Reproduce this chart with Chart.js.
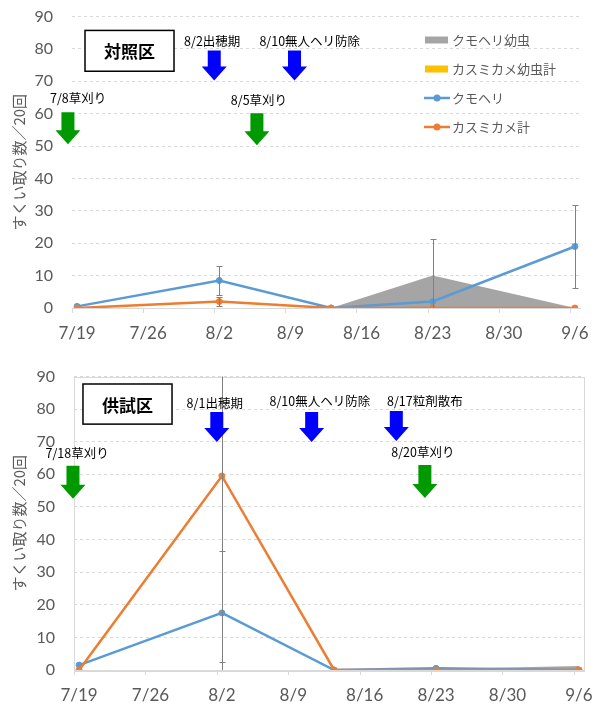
<!DOCTYPE html>
<html>
<head>
<meta charset="utf-8">
<script src="https://cdn.jsdelivr.net/npm/chart.js@4/dist/chart.umd.min.js"></script>
<style>
    html, body { margin: 0; padding: 0; background: #fff; }
    #wrap { position: relative; width: 597px; height: 707px; }
    .pane { position: absolute; left: 0; width: 597px; }
    #topPane { top: 0; height: 348px; }
    #bottomPane { top: 360px; height: 347px; }
</style>
</head>
<body>
<div id="wrap">
    <div class="pane" id="topPane"><canvas id="ctrlChart"></canvas></div>
    <div class="pane" id="bottomPane"><canvas id="testChart"></canvas></div>
</div>
<script>
const tickDates = ["7/19", "7/26", "8/2", "8/9", "8/16", "8/23", "8/30", "9/6"];
const surveyDates = ["7/19", "8/2", "8/13", "8/23", "9/6"];
const seriesNames = ["クモヘリ幼虫", "カスミカメ幼虫計", "クモヘリ", "カスミカメ計"];
const yTitle = "すくい取り数／20回";

// 対照区
const ctrlKumoheriLarva = [0, 0, 0, 10, 0];
const ctrlKasumiLarva = [0, 0, 0, 0, 0];
const ctrlKumoheri = [0.5, 8.5, 0, 2, 19];
const ctrlKasumi = [0, 2, 0, 0, 0];
const ctrlKumoheriErr = [0, 4.4, 0, 19.2, 12.9];
const ctrlKasumiErr = [0, 1.5, 0, 0, 0];

// 供試区
const testKumoheriLarva = [0, 0, 0, 0.3, 1.2];
const testKasumiLarva = [0, 0, 0, 0, 0];
const testKumoheri = [1.5, 17.5, 0, 0.5, 0];
const testKasumi = [0, 59.5, 0, 0, 0];
const testKumoheriErr = [0, 19.1, 0, 0, 0];
const testKasumiErr = [0, 57, 0, 0, 0];

// notes drawn on the charts: day = days after 7/19, value = y-axis value
const BLUE = "#0000ff";
const GREEN = "#009a00";
const ctrlNotes = {
    box: { text: "対照区", day0: 0.78, day1: 9.54, value0: 85.7, value1: 73.1 },
    texts: [
        { text: "8/2出穂期", day: 13.3, value: 82.3 },
        { text: "8/10無人ヘリ防除", day: 22.9, value: 82.3 },
        { text: "7/8草刈り", day: 0.1, value: 64.7 },
        { text: "8/5草刈り", day: 17.9, value: 64.1 }
    ],
    arrows: [
        { day: 13.5, value: 79.5, color: BLUE, h: 30 },
        { day: 21.4, value: 79.5, color: BLUE, h: 30 },
        { day: -0.9, value: 60.4, color: GREEN, h: 32 },
        { day: 17.7, value: 60.1, color: GREEN, h: 32 }
    ]
};
const testNotes = {
    box: { text: "供試区", day0: 0.38, day1: 9.11, value0: 87.7, value1: 75.4 },
    texts: [
        { text: "8/1出穂期", day: 13.3, value: 81.9 },
        { text: "8/10無人ヘリ防除", day: 23.6, value: 82.5 },
        { text: "8/17粒剤散布", day: 33.9, value: 82.5 },
        { text: "7/18草刈り", day: -0.2, value: 66.5 },
        { text: "8/20草刈り", day: 33.7, value: 66.8 }
    ],
    arrows: [
        { day: 13.5, value: 79.1, color: BLUE, h: 30 },
        { day: 22.8, value: 79.1, color: BLUE, h: 30 },
        { day: 31.1, value: 79.4, color: BLUE, h: 30 },
        { day: -0.6, value: 62.6, color: GREEN, h: 33 },
        { day: 33.9, value: 62.9, color: GREEN, h: 33 }
    ]
};

const TEXT_GRAY = "#595959";
const LINE_GRAY = "#d9d9d9";
const JP = "\"Noto Sans CJK JP\", sans-serif";

const dayOf = (md) => {
    const [m, d] = md.split("/").map(Number);
    return Math.round((Date.UTC(2020, m - 1, d) - Date.UTC(2020, 6, 19)) / 86400000);
};
const tickLabels = {};
tickDates.forEach(t => { tickLabels[dayOf(t)] = t; });
const points = (values) => values.map((v, i) => ({ x: dayOf(surveyDates[i]), y: v }));

const buildDatasets = (larva, kasumiLarva, kumo, kasumi, kumoErr, kasumiErr) => [
    { label: seriesNames[0], data: points(larva), fill: "origin", backgroundColor: "#a5a5a5", borderWidth: 0, pointRadius: 0, order: 4, area: true },
    { label: seriesNames[1], data: points(kasumiLarva), fill: "origin", backgroundColor: "#ffc000", borderWidth: 0, pointRadius: 0, order: 3, area: true },
    { label: seriesNames[2], data: points(kumo), borderColor: "#5b9bd5", backgroundColor: "#5b9bd5", borderWidth: 2.5, pointRadius: 3, pointBorderWidth: 1, order: 2, errors: kumoErr },
    { label: seriesNames[3], data: points(kasumi), borderColor: "#ed7d31", backgroundColor: "#ed7d31", borderWidth: 2.5, pointRadius: 3, pointBorderWidth: 1, order: 1, errors: kasumiErr }
];

const errorBars = {
    id: "errorBars",
    afterDatasetsDraw(chart) {
        const { ctx, chartArea: a, scales: { x, y } } = chart;
        ctx.save();
        ctx.beginPath();
        ctx.rect(a.left, a.top, a.right - a.left, a.bottom - a.top);
        ctx.clip();
        ctx.strokeStyle = "#808080";
        ctx.lineWidth = 1;
        chart.data.datasets.forEach(ds => {
            if (!ds.errors) {
                return;
            }
            ds.data.forEach((p, i) => {
                const e = ds.errors[i];
                if (!e) {
                    return;
                }
                const px = Math.round(x.getPixelForValue(p.x)) + 0.5;
                const hi = Math.round(y.getPixelForValue(p.y + e)) + 0.5;
                const lo = Math.round(y.getPixelForValue(p.y - e)) + 0.5;
                ctx.beginPath();
                ctx.moveTo(px, hi);
                ctx.lineTo(px, lo);
                ctx.moveTo(px - 3, hi);
                ctx.lineTo(px + 3, hi);
                ctx.moveTo(px - 3, lo);
                ctx.lineTo(px + 3, lo);
                ctx.stroke();
            });
        });
        ctx.restore();
    }
};

// Excel-style tick marks between day categories
const tickMarks = {
    id: "tickMarks",
    afterDraw(chart) {
        const { ctx, chartArea: a, scales: { x } } = chart;
        ctx.save();
        ctx.strokeStyle = LINE_GRAY;
        ctx.lineWidth = 1;
        x.ticks.forEach(t => {
            const px = Math.round(x.getPixelForValue(t.value - 0.5)) + 0.5;
            ctx.beginPath();
            ctx.moveTo(px, a.bottom);
            ctx.lineTo(px, a.bottom + 5);
            ctx.stroke();
        });
        ctx.restore();
    }
};

const frame = {
    id: "frame",
    beforeDatasetsDraw(chart) {
        const { ctx, chartArea: a } = chart;
        ctx.save();
        ctx.strokeStyle = LINE_GRAY;
        ctx.lineWidth = 1;
        ctx.strokeRect(Math.round(a.left) + 0.5, Math.round(a.top) + 0.5, Math.round(a.right - a.left), Math.round(a.bottom - a.top));
        ctx.restore();
    }
};

const drawArrow = (ctx, cx, top, color, h) => {
    const sw = 13, hw = 25, hh = 14;
    ctx.beginPath();
    ctx.moveTo(cx - sw / 2, top);
    ctx.lineTo(cx + sw / 2, top);
    ctx.lineTo(cx + sw / 2, top + h - hh);
    ctx.lineTo(cx + hw / 2, top + h - hh);
    ctx.lineTo(cx, top + h);
    ctx.lineTo(cx - hw / 2, top + h - hh);
    ctx.lineTo(cx - sw / 2, top + h - hh);
    ctx.closePath();
    ctx.fillStyle = color;
    ctx.fill();
};

const makeNotes = (notes) => ({
    id: "notes",
    afterDraw(chart) {
        const { ctx, scales: { x, y } } = chart;
        ctx.save();
        const b = notes.box;
        const bx0 = x.getPixelForValue(b.day0), bx1 = x.getPixelForValue(b.day1);
        const by0 = y.getPixelForValue(b.value0), by1 = y.getPixelForValue(b.value1);
        ctx.fillStyle = "#fff";
        ctx.fillRect(bx0, by0, bx1 - bx0, by1 - by0);
        ctx.strokeStyle = "#000";
        ctx.lineWidth = 1.5;
        ctx.strokeRect(bx0, by0, bx1 - bx0, by1 - by0);
        ctx.fillStyle = "#000";
        ctx.font = "bold 17px " + JP;
        ctx.textAlign = "center";
        ctx.textBaseline = "middle";
        ctx.fillText(b.text, (bx0 + bx1) / 2, (by0 + by1) / 2 + 1);

        notes.arrows.forEach(a => drawArrow(ctx, x.getPixelForValue(a.day), y.getPixelForValue(a.value), a.color, a.h));

        ctx.font = "12.5px " + JP;
        ctx.fillStyle = "#000";
        notes.texts.forEach(t => ctx.fillText(t.text, x.getPixelForValue(t.day), y.getPixelForValue(t.value)));
        ctx.restore();
    }
});

const legendBox = {
    id: "legendBox",
    afterDraw(chart) {
        const { ctx } = chart;
        ctx.save();
        ctx.font = "13px " + JP;
        ctx.textBaseline = "middle";
        ctx.textAlign = "left";
        chart.data.datasets.forEach((ds, i) => {
            const cy = 40 + i * 29;
            if (ds.area) {
                ctx.fillStyle = ds.backgroundColor;
                ctx.fillRect(425, cy - 3.5, 23, 7);
            } else {
                ctx.strokeStyle = ds.borderColor;
                ctx.lineWidth = 2.5;
                ctx.beginPath();
                ctx.moveTo(424, cy);
                ctx.lineTo(450, cy);
                ctx.stroke();
                ctx.fillStyle = ds.backgroundColor;
                ctx.beginPath();
                ctx.arc(437, cy, 3.5, 0, Math.PI * 2);
                ctx.fill();
            }
            ctx.fillStyle = TEXT_GRAY;
            ctx.fillText(ds.label, 452, cy);
        });
        ctx.restore();
    }
};

const buildOptions = (yWidth, xHeight, padRight) => ({
    responsive: true,
    maintainAspectRatio: false,
    animation: false,
    layout: { autoPadding: false, padding: { top: 16.5, right: padRight, left: 0, bottom: 0 } },
    plugins: { legend: { display: false }, tooltip: { enabled: false } },
    scales: {
        x: {
            type: "linear",
            min: -0.5,
            max: 49.5,
            afterBuildTicks: (scale) => {
                scale.ticks = tickDates.map(t => ({ value: dayOf(t) }));
            },
            afterFit: (scale) => {
                scale.height = xHeight;
                scale.paddingLeft = 0;
                scale.paddingRight = 0;
            },
            ticks: {
                callback: (v) => tickLabels[v] ?? "",
                autoSkip: false,
                maxRotation: 0,
                padding: 15,
                color: TEXT_GRAY,
                font: { family: "Lato", size: 17 }
            },
            grid: { display: false, drawTicks: false },
            border: { display: true, color: LINE_GRAY, width: 1 }
        },
        y: {
            min: 0,
            max: 90,
            afterFit: (scale) => {
                scale.width = yWidth;
                scale.paddingTop = 0;
                scale.paddingBottom = 0;
            },
            ticks: {
                stepSize: 10,
                padding: 19,
                color: TEXT_GRAY,
                font: { family: "Lato", size: 16 }
            },
            grid: { color: LINE_GRAY, drawTicks: false },
            border: { display: false, dash: [3, 3] },
            title: {
                display: true,
                text: yTitle,
                color: TEXT_GRAY,
                font: { family: "Noto Sans CJK JP", size: 15 },
                padding: { top: 10, bottom: 0 }
            }
        }
    }
});

new Chart(document.getElementById("ctrlChart"), {
    type: "line",
    data: {
        datasets: buildDatasets(ctrlKumoheriLarva, ctrlKasumiLarva, ctrlKumoheri, ctrlKasumi, ctrlKumoheriErr, ctrlKasumiErr)
    },
    options: buildOptions(72, 40, 17),
    plugins: [errorBars, tickMarks, makeNotes(ctrlNotes), legendBox]
});

new Chart(document.getElementById("testChart"), {
    type: "line",
    data: {
        datasets: buildDatasets(testKumoheriLarva, testKasumiLarva, testKumoheri, testKasumi, testKumoheriErr, testKasumiErr)
    },
    options: buildOptions(74, 37, 13),
    plugins: [frame, errorBars, tickMarks, makeNotes(testNotes)]
});
</script>
</body>
</html>
